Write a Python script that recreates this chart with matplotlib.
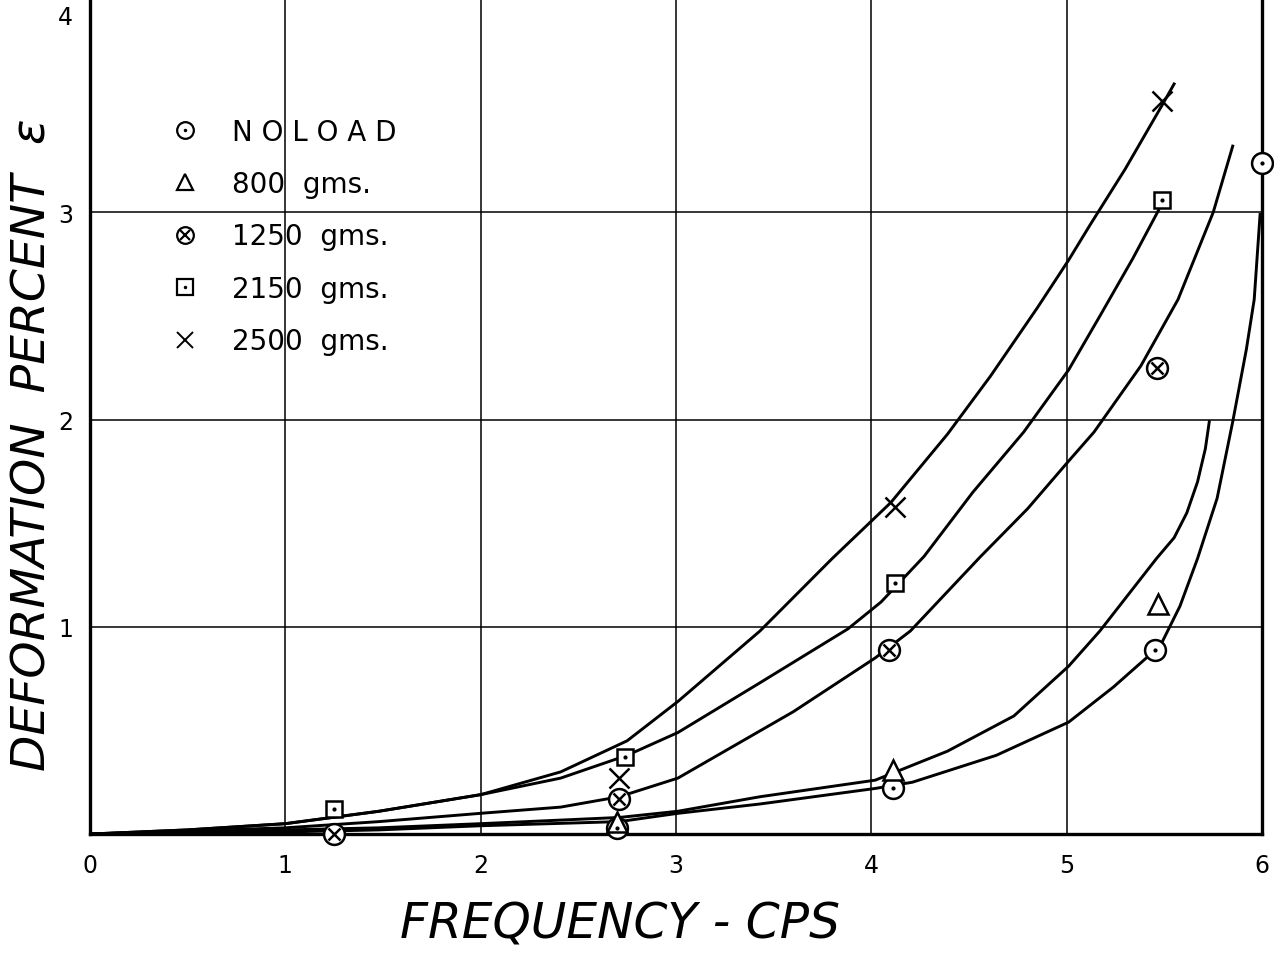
import matplotlib
matplotlib.use("Agg")
import matplotlib.pyplot as plt
from matplotlib.lines import Line2D

# measured points (frequency cps, deformation %)
noload_x = [2.70, 4.11, 5.45, 6.00]
noload_y = [0.03, 0.22, 0.89, 3.24]
g800_x = [2.70, 4.11, 5.47]
g800_y = [0.06, 0.31, 1.11]
g1250_x = [1.25, 2.71, 4.09, 5.46]
g1250_y = [0.00, 0.17, 0.89, 2.25]
g2150_x = [1.25, 2.74, 4.12, 5.49]
g2150_y = [0.12, 0.37, 1.21, 3.06]
g2500_x = [2.71, 4.12, 5.49]
g2500_y = [0.27, 1.58, 3.54]

# hand drawn fair curves
c_noload_x = [0, 1.0, 1.48, 2.0, 2.71, 3.01, 3.43, 4.02, 4.21, 4.64, 5.01, 5.24, 5.48, 5.58, 5.67, 5.77, 5.85, 5.92, 5.96, 5.99]
c_noload_y = [0, 0.01, 0.02, 0.04, 0.06, 0.10, 0.145, 0.22, 0.25, 0.38, 0.54, 0.71, 0.91, 1.10, 1.33, 1.62, 1.99, 2.34, 2.58, 2.99]
c800_x = [0, 1.0, 1.48, 2.0, 2.71, 3.01, 3.43, 4.02, 4.39, 4.73, 5.01, 5.17, 5.46, 5.55, 5.615, 5.67, 5.71, 5.73]
c800_y = [0, 0.02, 0.03, 0.05, 0.08, 0.11, 0.18, 0.26, 0.40, 0.57, 0.81, 0.98, 1.33, 1.43, 1.55, 1.70, 1.86, 1.99]
c1250_x = [0, 1.0, 1.48, 2.0, 2.41, 2.71, 3.01, 3.60, 4.02, 4.20, 4.56, 4.80, 5.01, 5.14, 5.38, 5.57, 5.75, 5.85]
c1250_y = [0, 0.03, 0.06, 0.10, 0.13, 0.18, 0.27, 0.59, 0.85, 0.98, 1.34, 1.57, 1.80, 1.94, 2.26, 2.58, 3.00, 3.32]
c2150_x = [0, 0.5, 1.0, 1.48, 2.0, 2.41, 2.75, 3.01, 3.43, 3.88, 4.05, 4.27, 4.52, 4.78, 5.01, 5.17, 5.34, 5.47]
c2150_y = [0, 0.02, 0.05, 0.11, 0.19, 0.27, 0.38, 0.49, 0.73, 0.99, 1.12, 1.34, 1.65, 1.94, 2.24, 2.50, 2.78, 3.01]
c2500_x = [0, 0.5, 1.0, 1.48, 2.0, 2.41, 2.75, 3.01, 3.43, 3.80, 4.10, 4.39, 4.61, 4.85, 5.01, 5.12, 5.30, 5.49, 5.55]
c2500_y = [0, 0.02, 0.05, 0.11, 0.19, 0.30, 0.45, 0.64, 0.98, 1.33, 1.60, 1.93, 2.21, 2.54, 2.77, 2.94, 3.21, 3.52, 3.62]

x_ticks = [0, 1, 2, 3, 4, 5, 6]
y_ticks = [1, 2, 3, 4]
legend_labels = ["N O L O A D", "800  gms.", "1250  gms.", "2150  gms.", "2500  gms."]

fig = plt.figure(figsize=(12.74, 9.54), dpi=100)
ax = fig.add_axes([0.0706, 0.1247, 0.92, 0.8753])
ax.set_xlim(0, 6)
ax.set_ylim(0, 4.03)

for v in x_ticks[1:-1]:
    ax.axvline(v, color="black", lw=1.1, zorder=1)
for v in y_ticks[:-1]:
    ax.axhline(v, color="black", lw=1.1, zorder=1)

ax.spines["top"].set_visible(False)
for spine in ["left", "bottom", "right"]:
    ax.spines[spine].set_linewidth(2.4)

lw = 2.1
ax.plot(c_noload_x, c_noload_y, color="black", lw=lw, zorder=2)
ax.plot(c800_x, c800_y, color="black", lw=lw, zorder=2)
ax.plot(c1250_x, c1250_y, color="black", lw=lw, zorder=2)
ax.plot(c2150_x, c2150_y, color="black", lw=lw, zorder=2)
ax.plot(c2500_x, c2500_y, color="black", lw=lw, zorder=2)

kw = dict(ls="none", color="black", mfc="white", mew=1.8, clip_on=False, zorder=3)
ax.plot(noload_x, noload_y, marker="o", ms=15, **kw)
ax.plot(noload_x, noload_y, marker=".", ms=4, ls="none", color="black", clip_on=False, zorder=4)
ax.plot(g800_x, g800_y, marker="^", ms=14, **kw)
ax.plot(g1250_x, g1250_y, marker="o", ms=15, **kw)
ax.plot(g1250_x, g1250_y, marker="x", ms=8, ls="none", color="black", mew=1.8, clip_on=False, zorder=4)
ax.plot(g2150_x, g2150_y, marker="s", ms=12, **kw)
ax.plot(g2150_x, g2150_y, marker=".", ms=4, ls="none", color="black", clip_on=False, zorder=4)
ax.plot(g2500_x, g2500_y, marker="x", ms=14, ls="none", color="black", mew=1.8, clip_on=False, zorder=3)

# legend handles
lk = dict(ls="none", color="black", mfc="white", mew=1.6)
handles = [
    (Line2D([], [], marker="o", ms=12, **lk), Line2D([], [], marker=".", ms=3, ls="none", color="black")),
    Line2D([], [], marker="^", ms=12, **lk),
    (Line2D([], [], marker="o", ms=12, **lk), Line2D([], [], marker="x", ms=7, ls="none", color="black", mew=1.6)),
    (Line2D([], [], marker="s", ms=11, **lk), Line2D([], [], marker=".", ms=3, ls="none", color="black")),
    Line2D([], [], marker="x", ms=11, ls="none", color="black", mew=1.4),
]
leg = ax.legend(handles, legend_labels, loc="upper left", bbox_to_anchor=(0.067, 0.858),
                frameon=False, fontsize=20, handlelength=1.2, handletextpad=1.1,
                labelspacing=0.88, borderpad=0, borderaxespad=0)

ax.set_xticks(x_ticks)
ax.set_xticklabels([str(t) for t in x_ticks])
ax.set_yticks(y_ticks)
ax.set_yticklabels([str(t) for t in y_ticks])
ax.tick_params(axis="both", length=0, labelsize=17)
ax.tick_params(axis="x", pad=14)
ax.tick_params(axis="y", pad=12)
ax.get_yticklabels()[-1].set_va("top")

fig.text(620 / 1274, 1 - 925 / 954, "FREQUENCY - CPS", ha="center", va="center",
         fontsize=35, style="italic")
fig.text(33 / 1274, 1 - 445 / 954, "DEFORMATION  PERCENT  \u03b5", ha="center", va="center",
         fontsize=34, style="italic", rotation=90)

fig.savefig("out.png", dpi=100)
